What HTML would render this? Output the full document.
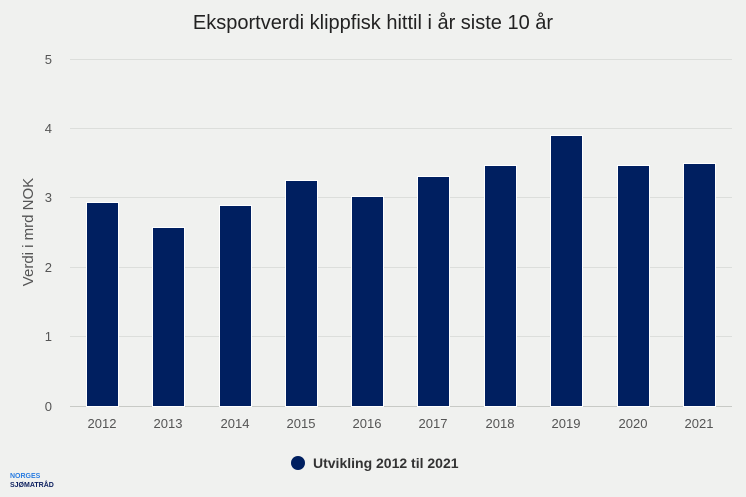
<!DOCTYPE html>
<html><head><meta charset="utf-8"><style>
body{margin:0;background:#f0f1ef;}
svg{display:block;font-family:"Liberation Sans",sans-serif;}
</style></head><body>
<svg width="746" height="497" viewBox="0 0 746 497">
<rect width="746" height="497" fill="#f0f1ef"/>
<text x="373" y="29" text-anchor="middle" font-size="20" fill="#222">Eksportverdi klippfisk hittil i år siste 10 år</text>
<g stroke="#dcdedb" stroke-width="1">
<line x1="70" x2="732" y1="59.5" y2="59.5"/>
<line x1="70" x2="732" y1="128.5" y2="128.5"/>
<line x1="70" x2="732" y1="197.5" y2="197.5"/>
<line x1="70" x2="732" y1="267.5" y2="267.5"/>
<line x1="70" x2="732" y1="336.5" y2="336.5"/>
</g>
<line x1="70" x2="732" y1="406.5" y2="406.5" stroke="#c8cac6"/>
<g font-size="13" fill="#555" text-anchor="end">
<text x="52" y="64">5</text><text x="52" y="133">4</text><text x="52" y="202">3</text>
<text x="52" y="272">2</text><text x="52" y="341">1</text><text x="52" y="411">0</text>
</g>
<text transform="translate(33,232) rotate(-90)" text-anchor="middle" font-size="15" fill="#555">Verdi i mrd NOK</text>
<g fill="#001f60" stroke="#fff" stroke-width="1">
<rect x="86.5" y="202.5" width="32" height="204"/>
<rect x="152.5" y="227.5" width="32" height="179"/>
<rect x="219.5" y="205.5" width="32" height="201"/>
<rect x="285.5" y="180.5" width="32" height="226"/>
<rect x="351.5" y="196.5" width="32" height="210"/>
<rect x="417.5" y="176.5" width="32" height="230"/>
<rect x="484.5" y="165.5" width="32" height="241"/>
<rect x="550.5" y="135.5" width="32" height="271"/>
<rect x="617.5" y="165.5" width="32" height="241"/>
<rect x="683.5" y="163.5" width="32" height="243"/>
</g>
<g font-size="13" fill="#555" text-anchor="middle">
<text x="102" y="428">2012</text><text x="168" y="428">2013</text><text x="235" y="428">2014</text>
<text x="301" y="428">2015</text><text x="367" y="428">2016</text><text x="433" y="428">2017</text>
<text x="500" y="428">2018</text><text x="566" y="428">2019</text><text x="633" y="428">2020</text>
<text x="699" y="428">2021</text>
</g>
<circle cx="298" cy="463" r="7" fill="#001f60"/>
<text x="313" y="468" font-size="14" font-weight="bold" fill="#333">Utvikling 2012 til 2021</text>
<text x="10" y="478" font-size="7" font-weight="bold" fill="#2a7de1">NORGES</text>
<text x="10" y="487" font-size="7" font-weight="bold" fill="#0c1f5e">SJØMATRÅD</text>
</svg>
</body></html>
